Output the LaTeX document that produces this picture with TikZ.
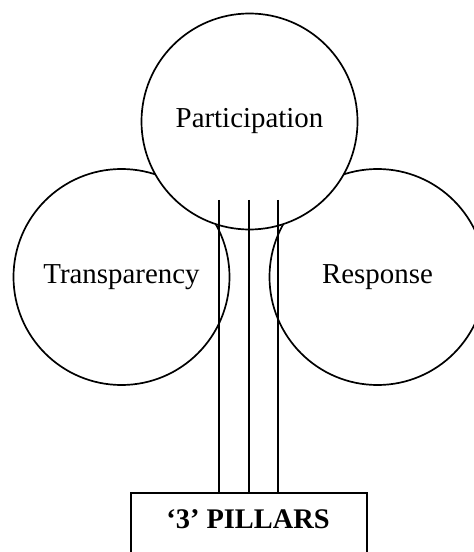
\documentclass[tikz,border=0pt]{standalone}
\usepackage{fontspec}
\setmainfont{Liberation Serif}
\begin{document}
\begin{tikzpicture}[x=1bp,y=-1bp,
  ring/.style={circle,draw,line width=1.7bp,minimum size=216bp,inner sep=0pt,
    font=\fontsize{29}{34}\selectfont},
  pillar/.style={line width=1.7bp},
  basebox/.style={draw,line width=1.7bp,minimum width=236bp,minimum height=80bp,inner sep=0pt}]
\useasboundingbox (0,0) rectangle (474,552);
\node[ring] (trans) at (121.5,277) {Transparency};
\node[ring] (resp) at (377.5,277) {Response};
\node[ring,fill=white] (part) at (249.5,121.5) {Participation};
\node[basebox] (box) at (249,533) {};
\node[anchor=base,font=\bfseries\fontsize{28.5}{34}\selectfont] (lbl) at (248,528) {‘3’ PILLARS};
\coordinate (p1) at (219,200);
\coordinate (p2) at (249,200);
\coordinate (p3) at (278,200);
\draw[pillar] (p1) -- (p1 |- box.north);
\draw[pillar] (p2) -- (p2 |- box.north);
\draw[pillar] (p3) -- (p3 |- box.north);
\end{tikzpicture}
\end{document}
